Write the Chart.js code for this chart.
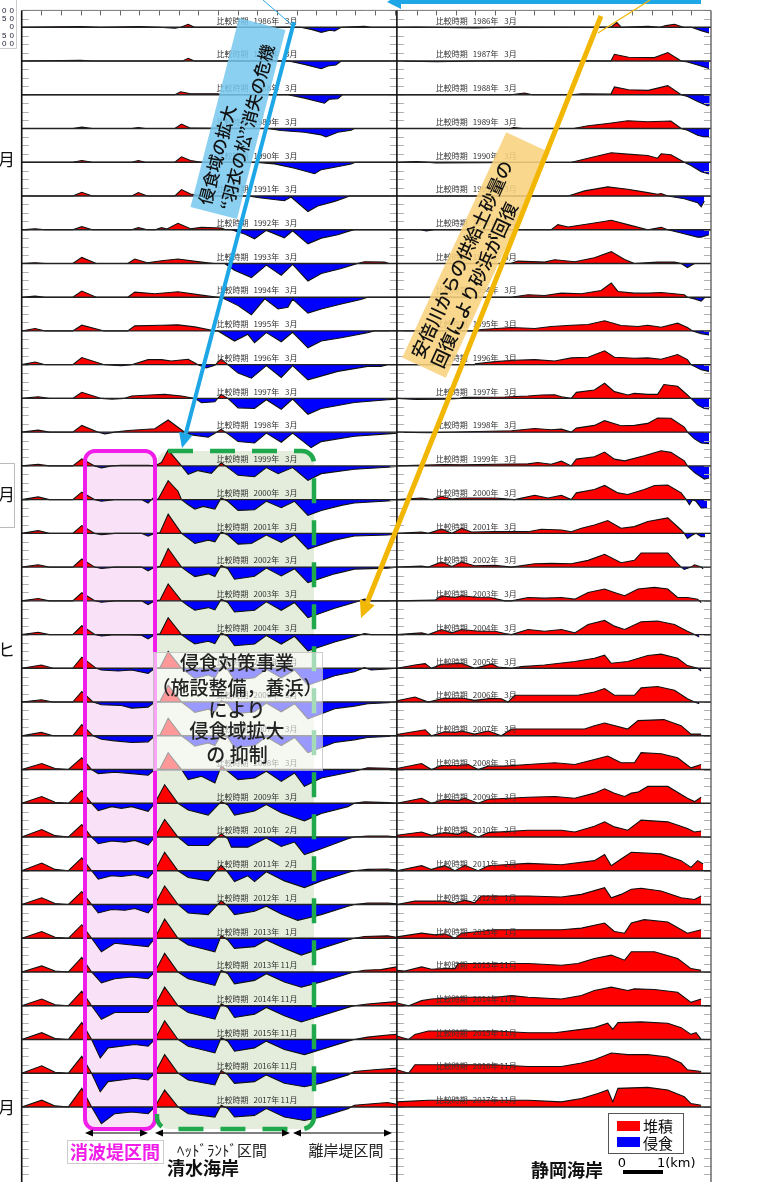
<!DOCTYPE html>
<html><head><meta charset="utf-8">
<script src="https://cdn.jsdelivr.net/npm/chart.js@4.4.0/dist/chart.umd.min.js"></script>
<style>html,body{margin:0;padding:0;background:#fff;overflow:hidden}#wrap{position:relative;width:770px;height:1182px}canvas{display:block}</style>
</head><body><div id="wrap"><canvas id="c" width="770" height="1182"></canvas></div>
<script>
// ---------- data ----------
const YEARS  = [1986,1987,1988,1989,1990,1991,1992,1993,1994,1995,1996,1997,1998,1999,2000,2001,2002,2003,2004,2005,2006,2007,2008,2009,2010,2011,2012,2013,2013,2014,2015,2016,2017];
const MONTHS = [3,3,3,3,3,3,3,3,3,3,3,3,3,3,3,3,3,3,3,3,3,3,3,3,2,2,1,1,11,11,11,11,11];
const Y_TICK_LABELS = ['100','50','0','50','100'];
const Y_TICK_VALUES = [100,50,0,-50,-100];
const LEGEND_LABELS = ['堆積','侵食'];
const SECTION_LABELS = ['消波堤区間','ﾍｯﾄﾞﾗﾝﾄﾞ区間','離岸堤区間'];
const COAST_LABELS = ['清水海岸','静岡海岸'];
const MARGIN_LABELS = ['月','月','ヒ','月'];

// Shimizu coast: [distance km, shoreline change m]
const SHIMIZU = [
[[0,0],[0.5,2],[1.5,4],[2,0],[3,4],[3.5,0],[3.9,-6],[4.05,0],[4.24,18],[4.4,0],[7.1,0],[7.4,-14],[7.63,-30],[7.85,-18],[7.97,-22],[8.14,0],[8.73,6],[8.9,0],[9.55,0]],
[[0,0],[1.5,4],[1.8,0],[4.1,0],[4.24,16],[4.4,0],[6.8,0],[7.2,-20],[7.63,-46],[7.8,-30],[8.0,-24],[8.14,0],[9.55,0]],
[[0,0],[3.9,0],[4.05,18],[4.3,6],[5.0,6],[5.1,0],[6.78,0],[7.2,-20],[7.71,-50],[7.84,-26],[8.05,-24],[8.17,0],[9.55,0]],
[[0,0],[1.3,0],[1.53,8],[1.8,0],[2.8,0],[2.97,6],[3.15,0],[3.9,0],[4.07,26],[4.3,2],[6.27,0],[6.6,-12],[7.2,-22],[7.63,-38],[7.75,-50],[8.05,-22],[8.39,-10],[8.47,0],[9.55,0]],
[[0,0],[1.3,0],[1.53,10],[1.8,0],[2.8,0],[2.97,10],[3.15,0],[3.9,0],[4.07,32],[4.3,10],[4.58,0],[5.93,0],[6.44,-10],[6.95,-36],[7.46,-68],[7.63,-44],[7.97,-30],[8.39,-10],[8.5,0],[9.55,0]],
[[0,0],[1.3,0],[1.53,22],[1.8,0],[2.8,0],[2.97,20],[3.2,0],[3.9,0],[4.07,38],[4.3,12],[4.6,0],[5.76,0],[6.1,-12],[6.69,-28],[6.86,-6],[7.29,-92],[7.54,-60],[7.97,-32],[8.22,-12],[8.35,0],[9.55,0]],
[[0,0],[0.34,6],[0.6,0],[1.3,0],[1.53,18],[1.8,0],[2.8,0],[2.97,12],[3.2,0],[3.4,0],[3.56,12],[3.7,4],[3.98,38],[4.3,6],[4.58,14],[5.08,10],[5.2,0],[5.34,0],[5.68,-26],[5.93,-54],[6.23,-4],[6.69,-48],[6.9,-6],[7.29,-84],[7.63,-50],[8.05,-30],[8.31,-10],[8.47,0],[9.55,0]],
[[0,0],[0.34,4],[0.6,0],[1.3,0],[1.53,36],[1.9,0],[2.7,0],[2.88,26],[3.2,4],[3.56,16],[3.98,26],[4.58,8],[4.9,0],[5.17,0],[5.42,-40],[5.85,-84],[6.23,-10],[6.61,-70],[6.9,-6],[7.29,-104],[7.63,-60],[8.14,-30],[8.47,-6],[8.55,0],[8.73,10],[9.24,8],[9.35,0],[9.55,0]],
[[0,0],[0.34,6],[0.6,0],[1.3,0],[1.53,36],[1.9,0],[2.7,0],[2.88,30],[3.39,20],[3.98,32],[4.58,12],[5.0,0],[5.08,0],[5.51,-50],[5.85,-104],[6.19,-10],[6.53,-70],[6.78,-60],[6.9,-12],[7.29,-94],[7.63,-70],[8.14,-40],[8.64,-14],[8.81,0],[9.55,0]],
[[0,0],[0.34,14],[0.6,0],[1.3,0],[1.53,34],[2.1,0],[2.7,0],[2.88,30],[3.56,34],[3.98,36],[4.41,24],[4.75,8],[4.92,0],[5.0,0],[5.42,-60],[5.76,-20],[5.93,-70],[6.23,-10],[6.61,-64],[6.9,-8],[7.29,-100],[7.63,-60],[8.14,-40],[8.81,-10],[8.98,0],[9.55,0]],
[[0,0],[0.34,16],[0.6,0],[1.3,0],[1.53,42],[2.1,0],[2.54,-6],[2.8,0],[3.22,30],[3.56,30],[3.81,22],[4.24,32],[4.49,0],[4.7,-20],[4.92,-4],[5.08,34],[5.25,0],[5.51,-50],[5.85,-80],[6.23,-6],[6.61,-76],[6.9,-6],[7.29,-90],[8.05,-40],[8.81,-10],[9.15,-10],[9.32,0],[9.55,0]],
[[0,0],[0.42,10],[0.7,0],[1.3,0],[1.53,36],[2.03,0],[2.3,-4],[2.6,0],[2.8,14],[3.39,22],[3.64,24],[4.07,14],[4.41,0],[4.58,-26],[4.92,-20],[5.08,24],[5.25,0],[5.51,-56],[5.93,-60],[6.23,-8],[6.61,-64],[6.9,-4],[7.29,-94],[7.63,-60],[8.47,-24],[9.32,-8],[9.55,-4]],
[[0,0],[0.42,12],[0.7,0],[1.3,0],[1.53,40],[1.95,0],[2.12,-10],[2.37,0],[2.71,10],[3.39,20],[3.73,72],[4.15,0],[4.32,-16],[4.75,-30],[5.08,16],[5.25,-10],[5.51,-56],[5.93,-64],[6.23,-6],[6.61,-60],[6.9,-6],[7.37,-92],[7.63,-56],[8.47,-24],[9.32,-10],[9.55,-6]],
[[0,0],[0.42,10],[0.7,0],[1.3,0],[1.53,42],[1.86,0],[2.03,-12],[2.29,0],[2.54,4],[3.22,4],[3.39,0],[3.56,20],[3.73,94],[4.07,0],[4.24,-50],[4.49,-28],[4.83,-44],[5.08,18],[5.25,-10],[5.51,-56],[5.93,-64],[6.23,-10],[6.53,-46],[6.9,-10],[7.29,-86],[7.63,-46],[8.47,-20],[9.32,-8],[9.55,-4]],
[[0,0],[0.42,16],[0.7,0],[1.3,0],[1.53,44],[1.86,0],[2.03,-10],[2.37,0],[3.05,0],[3.22,-20],[3.35,10],[3.47,0],[3.73,112],[3.98,50],[4.07,0],[4.24,-30],[4.41,-56],[4.62,-40],[4.92,-56],[5.08,10],[5.25,-10],[5.51,-64],[5.93,-60],[6.23,-10],[6.61,-48],[6.95,-10],[7.29,-94],[7.63,-64],[8.14,-34],[8.47,-20],[9.32,-8],[9.55,-4]],
[[0,0],[0.42,16],[0.7,0],[1.3,0],[1.53,46],[1.86,0],[2.03,-8],[2.37,0],[3.05,0],[3.22,-16],[3.39,0],[3.52,4],[3.73,114],[4.07,0],[4.24,-30],[4.41,-60],[4.75,-40],[4.92,-50],[5.08,8],[5.25,-10],[5.51,-64],[5.85,-60],[6.23,-10],[6.61,-54],[6.95,-10],[7.29,-94],[7.97,-40],[8.47,-16],[9.32,-10],[9.55,-4]],
[[0,0],[0.42,14],[0.7,0],[1.3,0],[1.53,48],[1.86,0],[2.03,-8],[2.37,0],[3.05,0],[3.22,-22],[3.39,0],[3.52,4],[3.73,110],[4.07,0],[4.24,-30],[4.41,-56],[4.75,-40],[4.92,-56],[5.08,10],[5.25,-10],[5.42,-72],[5.93,-54],[6.23,-6],[6.61,-52],[6.95,-10],[7.29,-92],[7.97,-40],[8.47,-12],[9.32,-6],[9.55,0]],
[[0,0],[0.42,14],[0.7,0],[1.3,0],[1.53,48],[1.86,0],[2.03,-8],[2.37,0],[3.05,0],[3.22,-22],[3.39,0],[3.52,4],[3.73,100],[4.07,0],[4.24,-30],[4.41,-56],[4.75,-40],[4.92,-54],[5.08,10],[5.25,-10],[5.42,-66],[5.93,-56],[6.23,-6],[6.61,-56],[6.95,-10],[7.29,-100],[7.97,-44],[8.47,-10],[8.73,10],[8.9,0],[9.55,0]],
[[0,0],[0.42,14],[0.7,0],[1.3,0],[1.53,52],[1.86,0],[2.03,-8],[2.37,0],[3.05,-4],[3.22,-26],[3.39,0],[3.52,4],[3.73,100],[4.07,0],[4.24,-30],[4.41,-56],[4.75,-40],[4.92,-54],[5.08,10],[5.25,-10],[5.42,-66],[5.93,-56],[6.23,-6],[6.61,-56],[6.95,-10],[7.29,-96],[7.97,-44],[8.47,-12],[8.73,6],[8.9,0],[9.55,0]],
[[0,0],[0.5,20],[0.8,0],[1.3,0],[1.53,66],[1.9,0],[2.03,-10],[2.46,-16],[2.8,-10],[3.22,-30],[3.39,0],[3.52,4],[3.73,100],[4.07,0],[4.24,-30],[4.41,-60],[4.75,-40],[4.92,-56],[5.08,10],[5.25,-10],[5.42,-70],[5.93,-56],[6.23,-6],[6.61,-56],[6.95,-10],[7.29,-100],[7.97,-44],[8.47,-20],[8.73,4],[8.9,-10],[9.32,-4],[9.55,0]],
[[0,0],[0.5,14],[0.8,0],[1.3,0],[1.53,62],[1.82,0],[2.03,-16],[2.54,-20],[2.8,-36],[3.22,-30],[3.39,0],[3.52,4],[3.73,100],[4.07,0],[4.24,-30],[4.41,-62],[4.75,-42],[4.92,-58],[5.08,8],[5.25,-10],[5.42,-70],[5.93,-58],[6.23,-6],[6.61,-58],[6.95,-10],[7.29,-100],[7.97,-40],[8.47,-24],[8.81,-10],[9.32,-4],[9.55,0]],
[[0,0],[0.5,20],[0.8,0],[1.3,0],[1.53,66],[1.82,0],[2.03,-20],[2.37,-30],[2.8,-40],[3.22,-36],[3.39,0],[3.52,4],[3.73,104],[4.07,0],[4.24,-30],[4.41,-62],[4.75,-42],[4.92,-58],[5.08,8],[5.25,-10],[5.42,-70],[5.93,-58],[6.23,-6],[6.61,-58],[6.95,-10],[7.29,-100],[7.97,-40],[8.47,-24],[8.81,-10],[9.32,-4],[9.55,0]],
[[0,0],[0.51,36],[0.85,6],[1.19,0],[1.53,70],[1.78,0],[1.95,-24],[2.37,-16],[2.8,-24],[3.22,-34],[3.39,0],[3.52,4],[3.73,100],[4.07,0],[4.24,-60],[4.58,-40],[4.92,-80],[5.08,20],[5.25,-10],[5.51,-60],[5.93,-50],[6.23,-10],[6.61,-70],[6.95,-20],[7.2,-100],[7.63,-50],[8.47,-10],[8.64,0],[8.81,10],[9.32,8],[9.55,4]],
[[0,0],[0.51,40],[0.85,6],[1.19,0],[1.53,76],[1.78,0],[1.95,-44],[2.29,-20],[2.54,-30],[2.8,-20],[3.22,-48],[3.39,0],[3.64,110],[3.98,0],[4.24,-40],[4.75,-70],[5.08,10],[5.25,-10],[5.42,-70],[5.93,-46],[6.23,-8],[6.61,-56],[7.2,-104],[7.63,-60],[8.31,-20],[8.47,0],[8.73,8],[9.32,4],[9.55,0]],
[[0,0],[0.51,44],[0.85,8],[1.19,0],[1.53,74],[1.78,0],[1.95,-40],[2.29,-24],[2.63,-30],[2.88,-20],[3.22,-48],[3.39,0],[3.64,104],[3.98,0],[4.24,-50],[4.75,-50],[5.08,20],[5.25,-10],[5.34,-60],[5.76,-60],[6.23,-6],[6.61,-56],[6.95,-30],[7.2,-104],[7.63,-70],[8.31,-10],[8.47,0],[8.81,6],[9.32,6],[9.55,0]],
[[0,0],[0.51,46],[0.85,8],[1.19,0],[1.53,76],[1.78,0],[1.95,-50],[2.29,-30],[2.54,-34],[2.88,-24],[3.22,-44],[3.39,0],[3.64,110],[3.98,0],[4.24,-40],[4.75,-60],[5.08,34],[5.25,-10],[5.42,-64],[5.76,-30],[5.93,-64],[6.23,-6],[6.69,-60],[7.2,-100],[7.63,-60],[8.31,-10],[8.47,0],[8.81,8],[9.32,10],[9.55,4]],
[[0,0],[0.51,40],[0.85,6],[1.19,0],[1.53,76],[1.78,0],[1.95,-50],[2.29,-30],[2.63,-34],[2.88,-24],[3.22,-50],[3.39,0],[3.64,110],[3.98,0],[4.24,-50],[4.75,-60],[5.08,22],[5.25,-10],[5.42,-60],[5.93,-40],[6.23,-10],[6.61,-56],[7.03,-94],[7.63,-60],[8.31,-10],[8.47,0],[8.81,8],[9.32,8],[9.55,4]],
[[0,0],[0.51,40],[0.85,6],[1.19,0],[1.53,80],[1.78,0],[2.03,-80],[2.37,-30],[2.8,-40],[3.22,-50],[3.39,0],[3.64,114],[3.98,0],[4.24,-40],[4.92,-80],[5.08,16],[5.25,-10],[5.42,-60],[5.93,-50],[6.23,-10],[6.69,-60],[7.12,-100],[7.63,-60],[8.31,-10],[8.47,0],[8.73,10],[9.32,14],[9.55,6]],
[[0,0],[0.51,36],[0.85,6],[1.19,0],[1.53,86],[1.78,0],[2.03,-64],[2.37,-40],[2.8,-30],[3.22,-40],[3.39,0],[3.64,110],[3.98,0],[4.24,-40],[4.92,-80],[5.08,10],[5.25,-10],[5.42,-70],[5.93,-50],[6.23,-10],[6.69,-60],[7.12,-90],[7.63,-60],[8.31,-10],[8.47,0],[8.73,10],[9.15,14],[9.55,30]],
[[0,0],[0.51,40],[0.85,6],[1.19,0],[1.53,86],[1.78,0],[2.03,-80],[2.37,-40],[2.8,-40],[3.22,-40],[3.39,0],[3.64,110],[3.98,0],[4.24,-40],[4.92,-80],[5.08,12],[5.25,-10],[5.42,-70],[5.93,-50],[6.23,-10],[6.69,-60],[7.12,-96],[7.63,-60],[8.31,-10],[8.47,0],[8.81,10],[9.32,20],[9.55,24]],
[[0,0],[0.51,40],[0.85,6],[1.19,0],[1.53,100],[1.78,0],[2.0,-110],[2.2,-50],[2.54,-40],[2.88,-30],[3.22,-40],[3.39,0],[3.64,110],[3.98,0],[4.24,-40],[4.92,-80],[5.08,10],[5.25,-10],[5.42,-70],[5.93,-50],[6.23,-10],[6.69,-60],[7.2,-90],[7.63,-60],[8.31,-10],[8.47,0],[8.81,14],[9.32,26],[9.55,30]],
[[0,0],[0.51,44],[0.85,6],[1.19,0],[1.53,100],[1.78,0],[2.0,-110],[2.2,-50],[2.54,-40],[2.88,-30],[3.22,-40],[3.39,0],[3.64,110],[3.98,0],[4.24,-40],[4.92,-70],[5.08,16],[5.25,-10],[5.42,-60],[5.93,-50],[6.23,-10],[6.69,-60],[7.2,-80],[7.63,-60],[8.31,-10],[8.47,10],[8.98,20],[9.55,30]],
[[0,0],[0.51,40],[0.85,6],[1.19,0],[1.53,110],[1.78,0],[2.03,-100],[2.37,-40],[2.8,-30],[3.22,-40],[3.39,0],[3.64,100],[3.98,0],[4.24,-40],[4.92,-60],[5.08,10],[5.25,-10],[5.42,-60],[5.93,-50],[6.23,-10],[6.69,-60],[7.2,-80],[7.63,-60],[8.31,-10],[8.47,10],[9.32,26],[9.55,16]]
];

// Shizuoka coast: [distance km, shoreline change m]
const SHIZUOKA = [
[[0,0],[0.5,2],[2.0,-4],[3.0,2],[5.45,0],[5.6,28],[5.72,0],[6.4,6],[6.7,0],[6.85,10],[7.07,18],[7.3,0],[7.5,0],[7.75,-20],[7.95,-34]],
[[0,0],[1.0,-4],[2.0,0],[4.0,2],[5.45,0],[5.54,40],[5.9,22],[6.56,20],[6.9,50],[7.24,0],[7.4,-6],[7.66,-24],[7.95,-44]],
[[0,0],[2.9,0],[3.25,10],[3.45,0],[4.45,0],[4.7,6],[5.45,4],[5.54,46],[5.9,30],[6.4,26],[6.9,54],[7.24,0],[7.4,-10],[7.66,-40],[7.92,-66],[7.97,-60]],
[[0,0],[2.9,0],[2.97,6],[3.2,0],[4.5,0],[4.87,16],[5.37,30],[5.88,46],[6.39,40],[6.98,44],[7.24,0],[7.4,-10],[7.66,-40],[7.83,-50],[7.95,-50]],
[[0,0],[0.5,4],[1.0,-4],[4.45,0],[4.87,24],[5.46,56],[5.88,48],[6.39,40],[6.64,24],[6.73,50],[6.98,44],[7.32,0],[7.49,-20],[7.75,-56],[7.95,-70]],
[[0,0],[4.36,0],[4.78,30],[5.37,54],[5.88,40],[6.39,20],[6.64,10],[6.73,14],[6.9,0],[7.32,-16],[7.66,-40],[7.75,-64],[7.83,-30]],
[[0,0],[0.6,0],[0.75,-8],[0.95,0],[3.93,0],[4.1,30],[4.36,16],[5.03,40],[5.46,56],[5.88,30],[6.39,0],[6.73,14],[6.9,0],[7.24,-20],[7.66,-44],[7.75,-44],[7.95,-30]],
[[0,0],[2.9,0],[3.08,14],[3.76,8],[4.02,22],[4.53,10],[5.03,34],[5.46,70],[5.8,24],[6.05,0],[6.64,8],[7.07,8],[7.24,0],[7.4,-24],[7.58,0],[7.9,0]],
[[0,0],[2.9,0],[3.34,14],[3.76,10],[4.19,24],[4.7,20],[5.2,40],[5.46,84],[5.63,34],[6.05,24],[6.39,24],[6.73,28],[7.32,14],[7.4,0],[7.58,-10],[7.75,-24],[7.85,0]],
[[0,0],[1.98,0],[2.15,8],[2.92,20],[3.51,14],[3.93,26],[4.44,34],[4.87,38],[5.29,60],[5.71,32],[6.14,26],[6.39,34],[6.73,22],[7.15,46],[7.4,20],[7.53,0],[7.75,-16],[7.95,-24]],
[[0,0],[1.98,0],[2.0,6],[2.5,18],[3.0,26],[3.51,30],[4.02,22],[4.44,40],[4.87,44],[5.29,82],[5.54,44],[6.05,38],[6.39,40],[6.73,32],[7.15,60],[7.4,30],[7.49,0],[7.75,-30],[7.95,-40]],
[[0,0],[0.5,-6],[1.25,-4],[1.6,0],[1.7,6],[2.75,8],[3.34,14],[3.68,20],[4.02,22],[4.19,10],[4.44,0],[4.57,36],[5.03,50],[5.29,90],[5.54,40],[5.88,20],[6.05,30],[6.39,24],[6.64,24],[6.8,82],[7.15,72],[7.4,20],[7.49,0],[7.66,-40],[7.83,-60],[7.95,-62]],
[[0,0],[0.8,-4],[2.07,4],[2.92,8],[3.51,22],[3.93,14],[4.19,18],[4.44,0],[4.57,24],[5.03,40],[5.29,68],[5.71,38],[6.05,40],[6.39,52],[6.64,84],[6.98,82],[7.32,30],[7.4,0],[7.58,-40],[7.75,-64],[7.95,-68]],
[[0,0],[1.22,8],[1.65,6],[2.5,10],[3.34,12],[3.59,20],[3.93,10],[4.19,28],[4.44,0],[4.57,40],[5.03,54],[5.29,82],[5.54,40],[5.8,30],[6.3,60],[6.73,90],[6.98,80],[7.32,30],[7.4,0],[7.58,-40],[7.83,-78],[7.95,-72]],
[[0,0],[0.63,10],[0.9,0],[1.14,20],[1.4,4],[1.65,10],[2.5,10],[3.0,0],[3.51,26],[3.85,10],[4.19,26],[4.44,0],[4.57,40],[5.03,60],[5.29,84],[5.63,40],[5.88,30],[6.3,60],[6.56,84],[6.9,86],[7.24,40],[7.37,0],[7.45,-30],[7.53,0],[7.62,-10],[7.75,-50],[7.9,-50]],
[[0,0],[0.63,8],[0.8,0],[1.14,26],[1.4,0],[1.65,30],[1.9,8],[2.5,10],[3.34,10],[3.68,24],[4.19,20],[4.44,10],[4.7,30],[5.03,50],[5.37,76],[5.71,30],[6.05,40],[6.39,70],[6.9,92],[7.24,20],[7.32,0],[7.4,-30],[7.53,-10],[7.62,0],[7.75,-20],[7.85,-20]],
[[0,0],[0.63,6],[0.8,0],[1.14,30],[1.4,4],[1.65,30],[1.98,8],[2.5,10],[2.92,0],[3.51,20],[3.93,22],[4.44,20],[4.87,40],[5.29,76],[5.71,26],[6.05,40],[6.22,84],[6.9,84],[7.15,20],[7.24,0],[7.32,-14],[7.49,0],[7.58,14],[7.75,0],[7.8,-10]],
[[0,0],[0.97,4],[1.14,30],[1.48,20],[1.65,30],[2.07,20],[2.41,18],[2.75,0],[2.92,0],[3.34,20],[3.76,16],[4.19,20],[4.53,10],[4.87,50],[5.29,70],[5.54,50],[5.8,30],[6.14,70],[6.56,80],[6.9,70],[7.15,20],[7.4,20],[7.66,10],[7.75,-10]],
[[0,0],[0.63,10],[0.8,0],[1.14,30],[1.4,10],[1.65,30],[2.07,20],[2.5,20],[2.75,6],[2.92,0],[3.34,30],[3.76,20],[4.19,30],[4.53,10],[4.87,60],[5.29,84],[5.54,50],[5.8,30],[6.22,76],[6.64,80],[7.07,60],[7.4,20],[7.58,0],[7.7,-14]],
[[0,0],[0.46,20],[0.72,28],[0.88,0],[1.14,24],[1.65,30],[1.98,0],[2.41,26],[2.58,8],[2.92,0],[3.17,10],[3.76,20],[4.53,40],[5.03,60],[5.29,78],[5.46,30],[5.88,40],[6.39,76],[6.73,84],[7.15,60],[7.4,16],[7.66,0],[7.75,-16]],
[[0,8],[0.46,30],[0.8,0],[1.14,20],[1.65,24],[1.98,10],[2.41,22],[2.66,20],[2.83,0],[3.0,40],[4.19,40],[4.61,40],[5.03,60],[5.29,80],[5.54,40],[6.05,40],[6.22,84],[6.64,92],[7.07,70],[7.4,20],[7.58,0],[7.7,-10]],
[[0,8],[0.72,36],[0.88,0],[1.22,24],[1.48,20],[1.65,28],[1.98,10],[2.33,28],[2.66,0],[2.92,40],[4.53,40],[4.78,40],[5.03,60],[5.29,76],[5.88,40],[6.14,90],[6.8,96],[7.24,60],[7.49,10],[7.75,10]],
[[0,6],[0.63,36],[0.88,0],[1.14,24],[1.56,24],[1.82,30],[2.07,0],[2.33,20],[2.75,20],[3.34,30],[4.02,40],[4.53,30],[5.03,60],[5.37,80],[5.71,40],[6.05,40],[6.22,100],[6.73,94],[7.15,70],[7.49,10],[7.75,30]],
[[0,0],[0.63,30],[0.88,0],[1.22,24],[1.56,16],[1.73,30],[2.07,0],[2.33,24],[3.34,36],[4.02,40],[4.53,30],[5.03,60],[5.29,86],[5.54,60],[5.8,40],[5.97,60],[6.14,66],[6.39,100],[6.9,100],[7.4,30],[7.58,10],[7.75,36]],
[[0,10],[0.63,30],[0.88,10],[1.22,26],[1.56,16],[1.73,36],[2.07,0],[2.33,26],[3.34,40],[4.19,40],[4.53,30],[5.03,64],[5.29,90],[5.54,60],[5.71,50],[5.88,40],[6.22,100],[6.9,90],[7.4,50],[7.58,30],[7.75,36]],
[[0,0],[0.63,30],[0.88,8],[1.22,30],[1.48,0],[1.73,32],[2.07,0],[2.33,30],[3.34,44],[4.19,36],[5.03,60],[5.29,96],[5.46,30],[5.71,70],[5.97,110],[6.73,100],[7.24,60],[7.49,20],[7.66,60],[7.8,40]],
[[0,0],[0.46,20],[0.8,20],[1.22,20],[1.48,8],[1.73,26],[1.98,10],[2.15,50],[3.34,50],[4.19,44],[4.7,60],[5.29,100],[5.46,40],[5.71,60],[5.97,90],[6.22,96],[6.73,80],[7.24,40],[7.58,30],[7.75,50]],
[[0,8],[0.63,30],[0.97,20],[1.22,26],[1.48,0],[1.65,30],[2.5,50],[3.34,50],[4.19,50],[4.7,60],[5.29,90],[5.54,40],[5.8,30],[5.97,90],[6.3,110],[6.9,96],[7.4,30],[7.75,50]],
[[0,10],[0.2,6],[0.63,30],[0.88,16],[1.22,20],[1.48,20],[1.56,50],[3.34,50],[4.19,40],[4.61,50],[5.03,80],[5.46,100],[5.8,70],[5.97,120],[6.56,120],[7.15,80],[7.49,20],[7.75,10]],
[[0,16],[0.3,0],[0.63,30],[0.88,40],[1.65,50],[2.5,50],[2.92,60],[3.34,50],[4.19,40],[4.7,60],[5.03,90],[5.46,110],[5.88,90],[6.05,100],[6.56,96],[7.15,80],[7.49,20],[7.75,40]],
[[0,20],[0.3,0],[0.46,30],[0.8,50],[2.5,50],[3.34,40],[4.02,40],[4.7,60],[5.03,70],[5.37,96],[5.5,60],[5.63,100],[6.22,104],[6.9,96],[7.24,70],[7.49,30],[7.62,40],[7.75,0]],
[[0,20],[0.3,0],[0.46,50],[2.5,50],[3.34,40],[4.19,40],[4.7,60],[5.03,80],[5.46,120],[5.88,110],[6.39,110],[6.9,96],[7.24,60],[7.4,20],[7.75,10]],
[[0,30],[0.8,40],[1.65,40],[2.5,40],[3.34,40],[4.19,30],[4.7,50],[5.12,80],[5.37,100],[5.5,30],[5.63,110],[6.39,116],[6.9,100],[7.32,60],[7.49,20],[7.75,10]]
];

// ---------- layout constants ----------
const ROW_STEP = 200;          // m between rows
const SPLIT = 9.555;           // km where the Shizuoka panel starts
const X_END = 17.555;
const FONT = '"Noto Sans CJK JP","Noto Sans",sans-serif';
const RED = '#ff0000', BLUE = '#0000ff';

const datasets = [];
SHIMIZU.forEach((row, i) => {
  const base = -ROW_STEP * i;
  datasets.push({data: row.map(p => ({x: p[0], y: base + p[1]})),
    fill: {target: {value: base}, above: RED, below: BLUE},
    borderColor: '#111', borderWidth: 1.1, pointRadius: 0});
});
SHIZUOKA.forEach((row, i) => {
  const base = -ROW_STEP * i;
  datasets.push({data: row.map(p => ({x: SPLIT + p[0], y: base + p[1]})),
    fill: {target: {value: base}, above: RED, below: BLUE},
    borderColor: '#111', borderWidth: 1.1, pointRadius: 0});
});

function rr(c, x, y, w, h, r) {
  c.beginPath(); c.moveTo(x + r, y);
  c.arcTo(x + w, y, x + w, y + h, r); c.arcTo(x + w, y + h, x, y + h, r);
  c.arcTo(x, y + h, x, y, r); c.arcTo(x, y, x + w, y, r); c.closePath();
}
function arrow(c, x1, y1, x2, y2, col, w, hl, hw) {
  const a = Math.atan2(y2 - y1, x2 - x1);
  const bx = x2 - hl * Math.cos(a), by = y2 - hl * Math.sin(a);
  c.strokeStyle = col; c.lineWidth = w; c.lineCap = 'butt';
  c.beginPath(); c.moveTo(x1, y1); c.lineTo(bx, by); c.stroke();
  c.fillStyle = col; c.beginPath(); c.moveTo(x2, y2);
  c.lineTo(bx + hw * Math.sin(a), by - hw * Math.cos(a));
  c.lineTo(bx - hw * Math.sin(a), by + hw * Math.cos(a)); c.closePath(); c.fill();
}
function dblArrow(c, x1, x2, y) {
  c.strokeStyle = '#000'; c.lineWidth = 1;
  c.beginPath(); c.moveTo(x1 + 6, y); c.lineTo(x2 - 6, y); c.stroke();
  c.fillStyle = '#000';
  c.beginPath(); c.moveTo(x1, y); c.lineTo(x1 + 8, y - 3.5); c.lineTo(x1 + 8, y + 3.5); c.closePath(); c.fill();
  c.beginPath(); c.moveTo(x2, y); c.lineTo(x2 - 8, y - 3.5); c.lineTo(x2 - 8, y + 3.5); c.closePath(); c.fill();
}
function rotBox(c, cx, cy, L, W, deg, fill, lines, fs) {
  c.save(); c.translate(cx, cy); c.rotate(deg * Math.PI / 180);
  c.fillStyle = fill; c.fillRect(-L / 2, -W / 2, L, W);
  c.fillStyle = '#111'; c.font = '500 ' + fs + 'px ' + FONT; c.textAlign = 'left'; c.textBaseline = 'middle';
  const lh = W / 2 - 2;
  lines.forEach((t, k) => c.fillText(t, -L / 2 + 6, (k - (lines.length - 1) / 2) * lh));
  c.restore();
}

const deco = {
  id: 'deco',
  beforeDraw(chart) {
    const c = chart.ctx; c.save(); c.fillStyle = '#fff'; c.fillRect(0, 0, chart.width, chart.height); c.restore();
  },
  beforeDatasetsDraw(chart) {
    const c = chart.ctx; c.save();
    c.fillStyle = '#f9e2f7'; rr(c, 85, 451, 70, 678, 10); c.fill();
    c.fillStyle = '#e4eddb'; rr(c, 157, 451, 157, 678, 12); c.fill();
    c.restore();
  },
  afterDatasetsDraw(chart) {
    const c = chart.ctx, sx = chart.scales.x, sy = chart.scales.y, a = chart.chartArea;
    const xs = sx.getPixelForValue(SPLIT);
    c.save();
    // inner side ticks every 50 m
    c.strokeStyle = '#b0b0b0'; c.lineWidth = 1;
    for (let v = 100; v >= sy.min; v -= 50) {
      const y = Math.round(sy.getPixelForValue(v)) + 0.5;
      c.beginPath();
      c.moveTo(a.left, y); c.lineTo(a.left + 7, y);
      c.moveTo(xs - 7, y); c.lineTo(xs, y);
      c.moveTo(xs, y); c.lineTo(xs + 7, y);
      c.moveTo(a.right - 7, y); c.lineTo(a.right, y);
      c.stroke();
    }
    // row baselines
    c.strokeStyle = '#222'; c.lineWidth = 1.4;
    for (let i = 0; i < YEARS.length; i++) {
      const y = sy.getPixelForValue(-ROW_STEP * i);
      c.beginPath(); c.moveTo(a.left, y); c.lineTo(a.right, y); c.stroke();
    }
    // top ticks every 0.5 km
    c.strokeStyle = '#666'; c.lineWidth = 1;
    for (let k = 0.5; k < SPLIT - 0.01; k += 0.5) {
      const x = Math.round(sx.getPixelForValue(k)) + 0.5;
      c.beginPath(); c.moveTo(x, a.top); c.lineTo(x, a.top + 5); c.stroke();
    }
    for (let k = 0.5; SPLIT + k < X_END - 0.01; k += 0.5) {
      const x = Math.round(sx.getPixelForValue(SPLIT + k)) + 0.5;
      c.beginPath(); c.moveTo(x, a.top); c.lineTo(x, a.top + 5); c.stroke();
    }
    // frame
    c.strokeStyle = '#777'; c.lineWidth = 1;
    c.beginPath(); c.moveTo(a.left, a.top); c.lineTo(a.right, a.top); c.stroke();
    c.strokeStyle = '#555'; c.lineWidth = 1.3;
    c.beginPath(); c.moveTo(a.right, a.top); c.lineTo(a.right, chart.height); c.stroke();
    c.strokeStyle = '#111'; c.lineWidth = 1.6;
    c.beginPath(); c.moveTo(a.left, a.top); c.lineTo(a.left, chart.height); c.stroke();
    c.beginPath(); c.moveTo(xs, a.top); c.lineTo(xs, chart.height); c.stroke();
    // row labels
    c.fillStyle = '#333'; c.font = '8px ' + FONT; c.textBaseline = 'middle';
    for (let i = 0; i < YEARS.length; i++) {
      const y = sy.getPixelForValue(-ROW_STEP * i + 40);
      [sx.getPixelForValue(4.96), sx.getPixelForValue(SPLIT + 0.99)].forEach(x0 => {
        c.textAlign = 'left';
        c.fillText('比較時期', x0, y);
        c.fillText(YEARS[i] + '年', x0 + 37, y);
        c.textAlign = 'right';
        c.fillText(MONTHS[i] + '月', x0 + 81, y);
      });
    }
    c.restore();
  },
  afterDraw(chart) {
    const c = chart.ctx, sy = chart.scales.y;
    c.save();
    // magenta box outline
    c.strokeStyle = '#f01ee8'; c.lineWidth = 4; rr(c, 85, 451, 70, 678, 10); c.stroke();
    // green dashed outline
    c.strokeStyle = '#1fa84c'; c.lineWidth = 4.5; c.setLineDash([25, 17]);
    c.beginPath(); c.moveTo(168, 451); c.arcTo(314, 451, 314, 1129, 12); c.arcTo(314, 1129, 157, 1129, 12);
    c.arcTo(157, 1129, 157, 451, 12); c.lineTo(157, 1114); c.stroke();
    c.setLineDash([]);
    // text box
    c.fillStyle = 'rgba(255,255,255,0.6)'; c.fillRect(153, 652, 169, 118);
    c.strokeStyle = 'rgba(190,190,190,0.8)'; c.lineWidth = 1; c.strokeRect(153.5, 652.5, 169, 118);
    c.fillStyle = '#222'; c.font = '500 19px ' + FONT; c.textAlign = 'center'; c.textBaseline = 'middle';
    [['侵食対策事業', 663], ['（施設整備，養浜）', 688], ['により', 710], ['侵食域拡大', 731], ['の 抑制', 755]]
      .forEach(([t, y]) => c.fillText(t, 237, y));
    // blue annotation
    rotBox(c, 238, 118.5, 195, 48, -75.6, 'rgba(120,200,238,0.85)', ['侵食域の拡大', '“羽衣の松”消失の危機'], 17);
    c.strokeStyle = '#29a8e6'; c.lineWidth = 1;
    c.beginPath(); c.moveTo(263, 0); c.lineTo(292, 25); c.stroke();
    arrow(c, 294, 22, 182, 448, '#1ea7e6', 4, 15, 7);
    // top cyan band
    c.fillStyle = '#1ea7e6'; c.fillRect(398, -3, 303, 7);
    c.beginPath(); c.moveTo(387, 2); c.lineTo(401, -7); c.lineTo(401, 9); c.closePath(); c.fill();
    // orange annotation
    rotBox(c, 476, 255, 248, 48, -65.2, 'rgba(248,210,125,0.88)', ['安倍川からの供給土砂量の', '回復により砂浜が回復'], 18);
    c.strokeStyle = '#f2b705'; c.lineWidth = 1.2;
    c.beginPath(); c.moveTo(650, 0); c.lineTo(598, 33); c.stroke();
    arrow(c, 601, 16, 361, 618, '#f2b705', 5, 17, 8);
    // bottom section arrows and labels
    dblArrow(c, 85, 148, 1133); dblArrow(c, 155, 290, 1133); dblArrow(c, 293, 392, 1133);
    c.strokeStyle = '#ccc'; c.lineWidth = 1; c.strokeRect(67.5, 1140.5, 96, 23);
    c.textAlign = 'center'; c.textBaseline = 'middle';
    c.fillStyle = '#f01ee8'; c.font = 'bold 18px ' + FONT; c.fillText(SECTION_LABELS[0], 115, 1152);
    c.fillStyle = '#222'; c.font = '15px ' + FONT;
    c.fillText(SECTION_LABELS[1], 222, 1150); c.fillText(SECTION_LABELS[2], 346, 1150);
    c.font = 'bold 18px ' + FONT; c.fillStyle = '#111';
    c.fillText(COAST_LABELS[0], 203, 1168); c.fillText(COAST_LABELS[1], 567, 1170);
    // legend
    c.fillStyle = '#fff'; c.fillRect(608, 1113, 75, 40);
    c.strokeStyle = '#555'; c.strokeRect(608.5, 1113.5, 75, 40);
    c.fillStyle = RED; c.fillRect(617, 1121, 23, 10);
    c.fillStyle = BLUE; c.fillRect(617, 1137, 23, 10);
    c.fillStyle = '#111'; c.font = '15px ' + FONT; c.textAlign = 'left';
    c.fillText(LEGEND_LABELS[0], 643, 1126); c.fillText(LEGEND_LABELS[1], 643, 1143);
    // scale bar
    c.fillStyle = '#000'; c.fillRect(623, 1170, 40, 4);
    c.font = '13px "DejaVu Sans",sans-serif'; c.textAlign = 'center'; c.fillText('0', 622, 1164);
    c.textAlign = 'left'; c.fillText('1(km)', 657, 1164);
    // left margin fragments
    c.fillStyle = '#111'; c.font = '17px ' + FONT; c.textAlign = 'left';
    [[160, 0], [495, 1], [650, 2], [1108, 3]].forEach(([y, k]) => c.fillText(MARGIN_LABELS[k], -2, y));
    c.strokeStyle = '#bbb'; c.lineWidth = 1;
    c.beginPath(); c.moveTo(0, 463.5); c.lineTo(14.5, 463.5); c.lineTo(14.5, 527.5); c.lineTo(0, 527.5); c.stroke();
    // top-left tick label fragment (cut off at the page edge)
    c.fillStyle = '#223'; c.font = '8px "Liberation Sans",Arial,sans-serif'; c.textAlign = 'right';
    c.letterSpacing = '3px';
    Y_TICK_VALUES.forEach((v, k) => c.fillText(Y_TICK_LABELS[k], 17, sy.getPixelForValue(v)));
    c.letterSpacing = '0px';
    c.strokeStyle = '#ccc';
    c.beginPath(); c.moveTo(16.5, 0); c.lineTo(16.5, 48.5); c.lineTo(0, 48.5); c.stroke();
    c.restore();
  }
};

new Chart(document.getElementById('c'), {
  type: 'line',
  data: {datasets},
  options: {
    responsive: false, animation: false, devicePixelRatio: 1,
    layout: {padding: {left: 21.7, right: 59, top: 10.4, bottom: 0}},
    scales: {
      x: {type: 'linear', min: 0, max: X_END, display: false},
      y: {type: 'linear', min: -6845, max: 100, display: false}
    },
    elements: {point: {radius: 0}, line: {tension: 0}},
    plugins: {legend: {display: false}, tooltip: {enabled: false}}
  },
  plugins: [deco]
});
</script></body></html>
